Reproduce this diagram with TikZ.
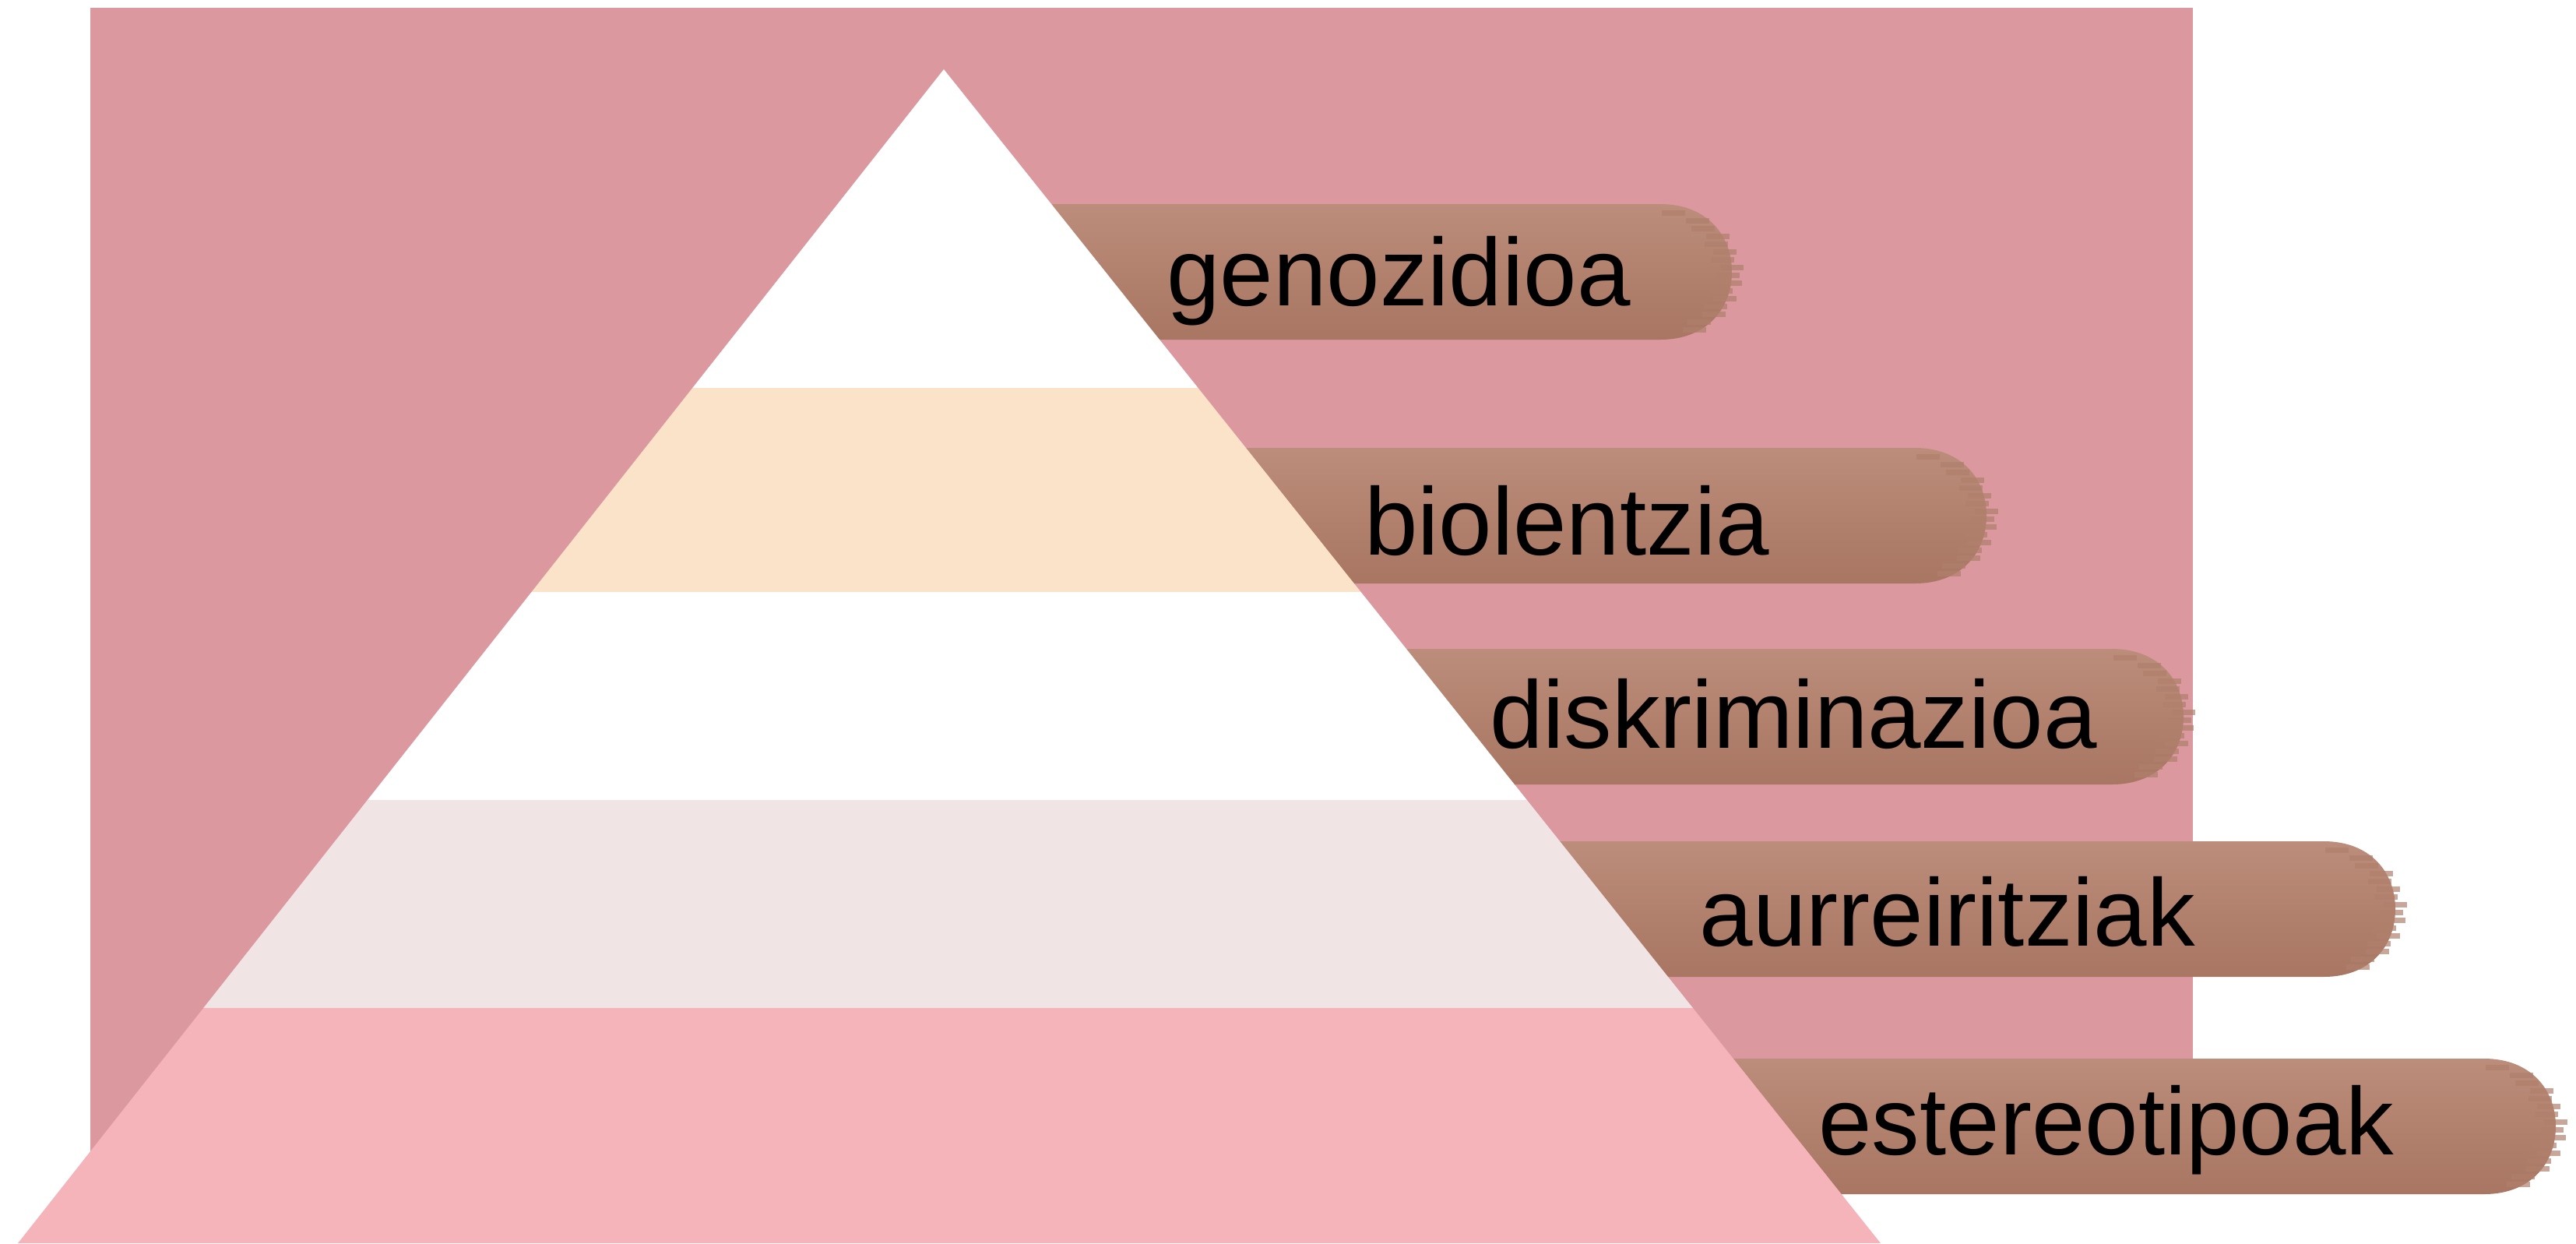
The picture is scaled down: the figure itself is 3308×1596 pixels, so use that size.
\documentclass[tikz,border=0pt]{standalone}
\usepackage{fontspec}
\setmainfont{Liberation Sans}
\usepackage{tikz}

\definecolor{bgpink}{HTML}{DB999F}
\definecolor{peach}{HTML}{FBE3C9}
\definecolor{lightband}{HTML}{F0E4E5}
\definecolor{baseband}{HTML}{F5B3BA}
\definecolor{brushlight}{HTML}{BC8D7B}
\definecolor{brushdark}{HTML}{A87662}
\definecolor{brushmid}{HTML}{B0806D}

% brush stroke behind a label: #1 = top edge, #2 = right end
\newcommand{\brushstroke}[2]{%
  \shade[top color=brushlight, bottom color=brushdark]
    (1300,#1) -- ({#2-100},#1) .. controls ({#2-40},#1) and ({#2-8},{#1+40}) .. ({#2-8},{#1+87})
    .. controls ({#2-8},{#1+134}) and ({#2-40},{#1+174}) .. ({#2-100},{#1+174}) -- (1300,{#1+174}) -- cycle;
  \foreach \dy/\jit in {8/-10,18/2,28/-4,38/6,48/-2,58/4,68/-3,78/8,88/2,98/6,108/-4,118/5,128/-2,138/3,148/-6,158/1}
    {\pgfmathsetmacro{\ex}{#2-100+100*sqrt(1-((\dy-87)/87)^2)+\jit}
     \fill[brushmid, opacity=0.7] ({\ex-30},{#1+\dy}) rectangle (\ex,{#1+\dy+7});}
}

\begin{document}
\begin{tikzpicture}[x=0.01cm, y=-0.01cm,
    lbl/.style={anchor=base, inner sep=0pt, text=black, font=\fontsize{35}{42}\selectfont}]
  \useasboundingbox (0,0) rectangle (3308,1596);
  \fill[bgpink] (116,10) rectangle (2816,1500);

  \brushstroke{262}{2232}
  \brushstroke{575}{2559}
  \brushstroke{833}{2812}
  \brushstroke{1080}{3084}
  \brushstroke{1359}{3290}

  \coordinate (apex) at (1212,89);
  \coordinate (bl) at (23,1596);
  \coordinate (br) at (2415,1596);
  \begin{scope}
    \clip (apex) -- (bl) -- (br) -- cycle;
    \foreach \ya/\yb/\col in {80/498/white, 498/760/peach, 760/1027/white, 1027/1294/lightband, 1294/1600/baseband}
      \fill[\col] (0,\ya) rectangle (3308,\yb);
  \end{scope}

  \node[lbl] (genozidioa) at (1796,392) {genozidioa};
  \node[lbl] (biolentzia) at (2012,712) {biolentzia};
  \node[lbl] (diskriminazioa) at (2303,960) {diskriminazioa};
  \node[lbl] (aurreiritziak) at (2501,1214) {aurreiritziak};
  \node[lbl] (estereotipoak) at (2705,1482) {estereotipoak};
\end{tikzpicture}
\end{document}
